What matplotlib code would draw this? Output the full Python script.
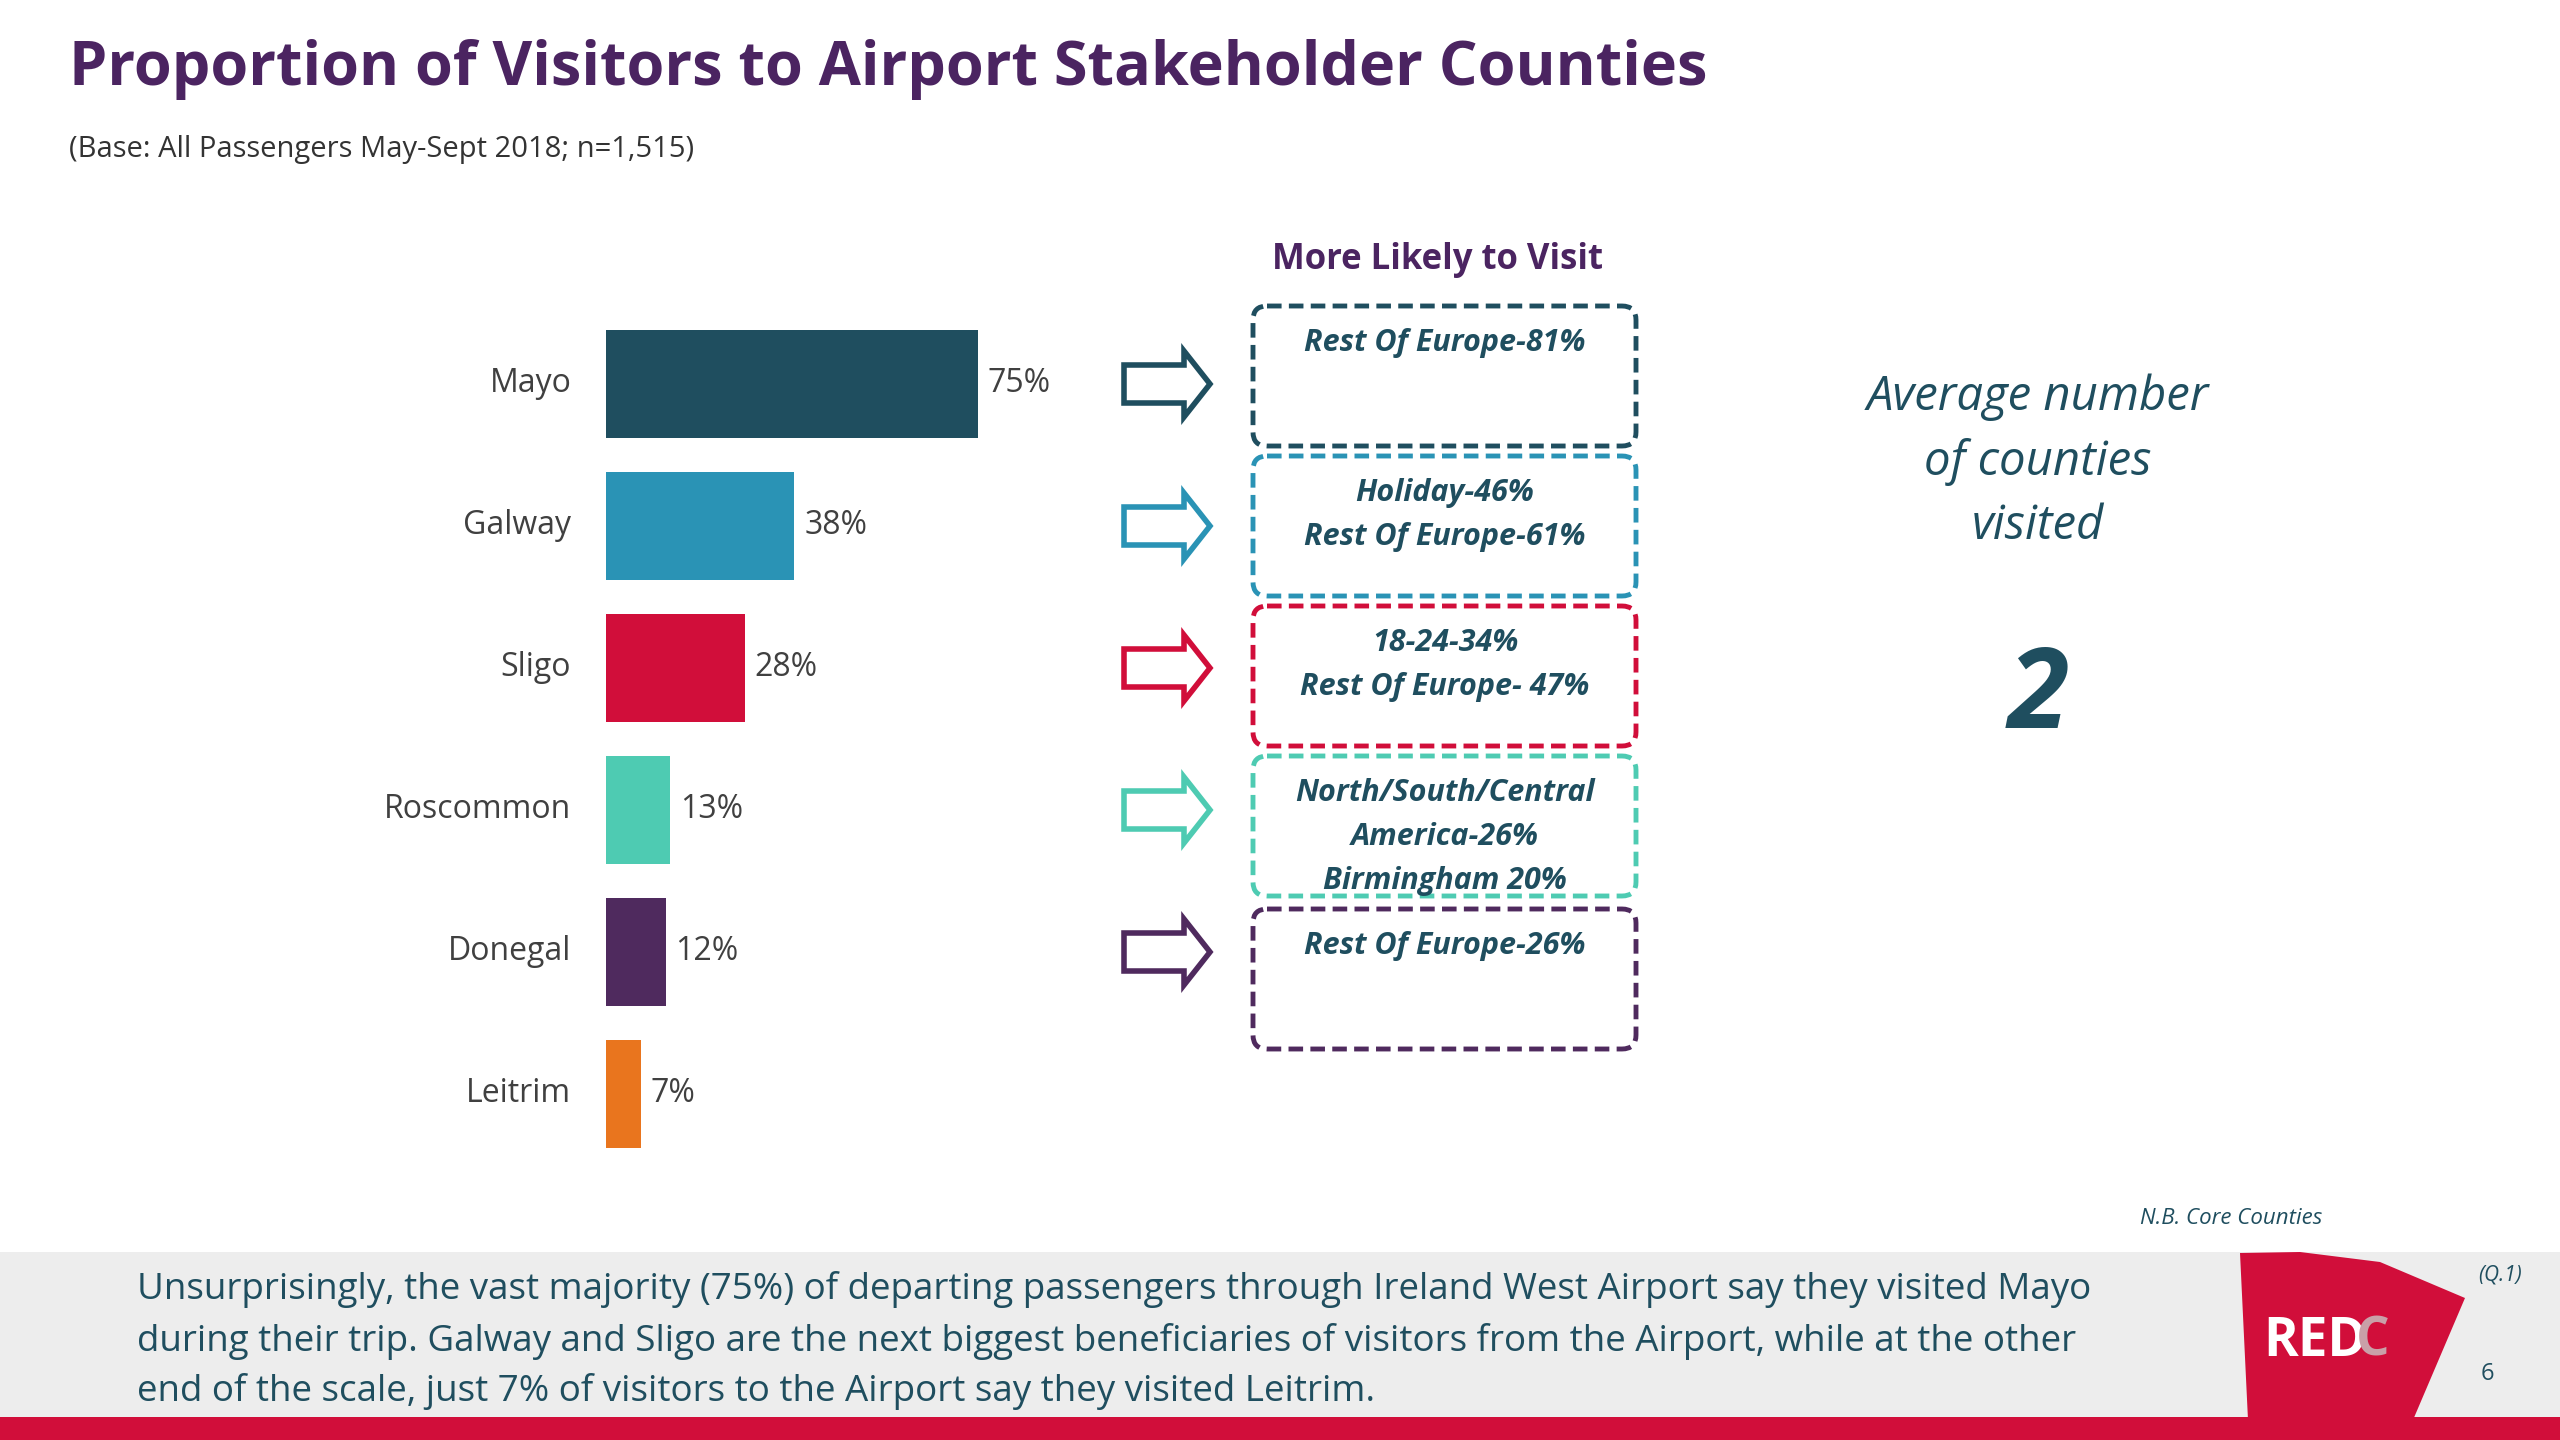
import matplotlib
matplotlib.use("Agg")
import matplotlib.pyplot as plt
from matplotlib.patches import FancyBboxPatch, FancyArrow, Polygon, Rectangle

plt.rcParams['font.family'] = ['Open Sans', 'DejaVu Sans']

counties = ['Mayo', 'Galway', 'Sligo', 'Roscommon', 'Donegal', 'Leitrim']
values = [75, 38, 28, 13, 12, 7]
colors = ['#1f4e5f', '#2a93b5', '#d10e3a', '#4ecbb2', '#4f2a5e', '#e9751e']
likely = ['Rest Of Europe-81%',
          'Holiday-46%\nRest Of Europe-61%',
          '18-24-34%\nRest Of Europe- 47%',
          'North/South/Central\nAmerica-26%\nBirmingham 20%',
          'Rest Of Europe-26%']

W, H = 2560, 1440
fig = plt.figure(figsize=(25.6, 14.4), dpi=100)
bg = fig.add_axes([0, 0, 1, 1])
bg.set_xlim(0, W); bg.set_ylim(H, 0); bg.axis('off')

bg.text(69, 69, 'Proportion of Visitors to Airport Stakeholder Counties', fontsize=44,
        fontweight='bold', color='#4b2461', va='center')
bg.text(69, 149, '(Base: All Passengers May-Sept 2018; n=1,515)', fontsize=21,
        color='#333333', va='center')

# bar chart axes in pixel coords
step = 142
top, left = 384 - step / 2, 606
axb = fig.add_axes([left / W, 1 - (top + step * 6) / H, 600 / W, step * 6 / H])
y = range(len(counties))
axb.barh(y, values, height=0.76, color=colors)
axb.set_ylim(5.5, -0.5)
axb.set_xlim(0, 600 / 4.96)
axb.axis('off')
for i, (c, v) in enumerate(zip(counties, values)):
    axb.text(-7, i, c, ha='right', va='center', fontsize=23, color='#404040')
    axb.text(v + 2, i, f'{v}%', ha='left', va='center', fontsize=23, color='#404040')

bg.text(1437, 260, 'More Likely to Visit', ha='center', va='center', fontsize=25,
        fontweight='bold', color='#4b2461')
tops = [306, 456, 606, 756, 909]
for i, txt in enumerate(likely):
    cy = 384 + i * step
    col = colors[i]
    bg.add_patch(FancyArrow(1124, cy, 60, 0, width=38, head_width=66, head_length=26,
                            length_includes_head=False, facecolor='white',
                            edgecolor=col, linewidth=4))
    bg.add_patch(FancyBboxPatch((1253, tops[i]), 383, 140,
                                boxstyle='round,pad=0,rounding_size=14',
                                facecolor='none', edgecolor=col, linewidth=3.5,
                                linestyle=(0, (3, 1.5))))
    bg.text(1445, tops[i] + 22, txt, ha='center', va='top', fontsize=22,
            fontweight='bold', fontstyle='italic', color='#1f4e5f', linespacing=1.6)

bg.text(2038, 462, 'Average number\nof counties\nvisited', ha='center', va='center',
        fontsize=34, fontstyle='italic', color='#1f4e5f', linespacing=1.45)
bg.text(2038, 699, '2', ha='center', va='center', fontsize=80, fontweight='bold',
        fontstyle='italic', color='#1f4e5f')
bg.text(2322, 1218, 'N.B. Core Counties', ha='right', va='center', fontsize=16,
        fontstyle='italic', color='#1f4e5f')

# footer band
bg.add_patch(Rectangle((0, 1252), W, 168, facecolor='#ededed', edgecolor='none'))
bg.add_patch(Rectangle((0, 1417), W, 23, facecolor='#d10e3a', edgecolor='none'))
bg.text(137, 1341,
        'Unsurprisingly, the vast majority (75%) of departing passengers through Ireland West Airport say they visited Mayo\n'
        'during their trip. Galway and Sligo are the next biggest beneficiaries of visitors from the Airport, while at the other\n'
        'end of the scale, just 7% of visitors to the Airport say they visited Leitrim.',
        va='center', fontsize=26.5, color='#1f4e5f', linespacing=1.5)
bg.add_patch(Polygon([(2240, 1253), (2300, 1252), (2380, 1262), (2465, 1298),
                      (2413, 1420), (2248, 1420)], closed=True,
                     facecolor='#d10e3a', edgecolor='none'))
bg.text(2263, 1342, 'RED', ha='left', va='center', fontsize=38, fontweight='bold', color='white')
bg.text(2356, 1342, 'C', ha='left', va='center', fontsize=38, fontweight='bold', color='#c9a0a8')
bg.text(2500, 1275, '(Q.1)', ha='center', va='center', fontsize=15, fontstyle='italic', color='#1f4e5f')
bg.text(2487, 1374, '6', ha='center', va='center', fontsize=17, color='#1f4e5f')

fig.savefig('out.png', dpi=100)
